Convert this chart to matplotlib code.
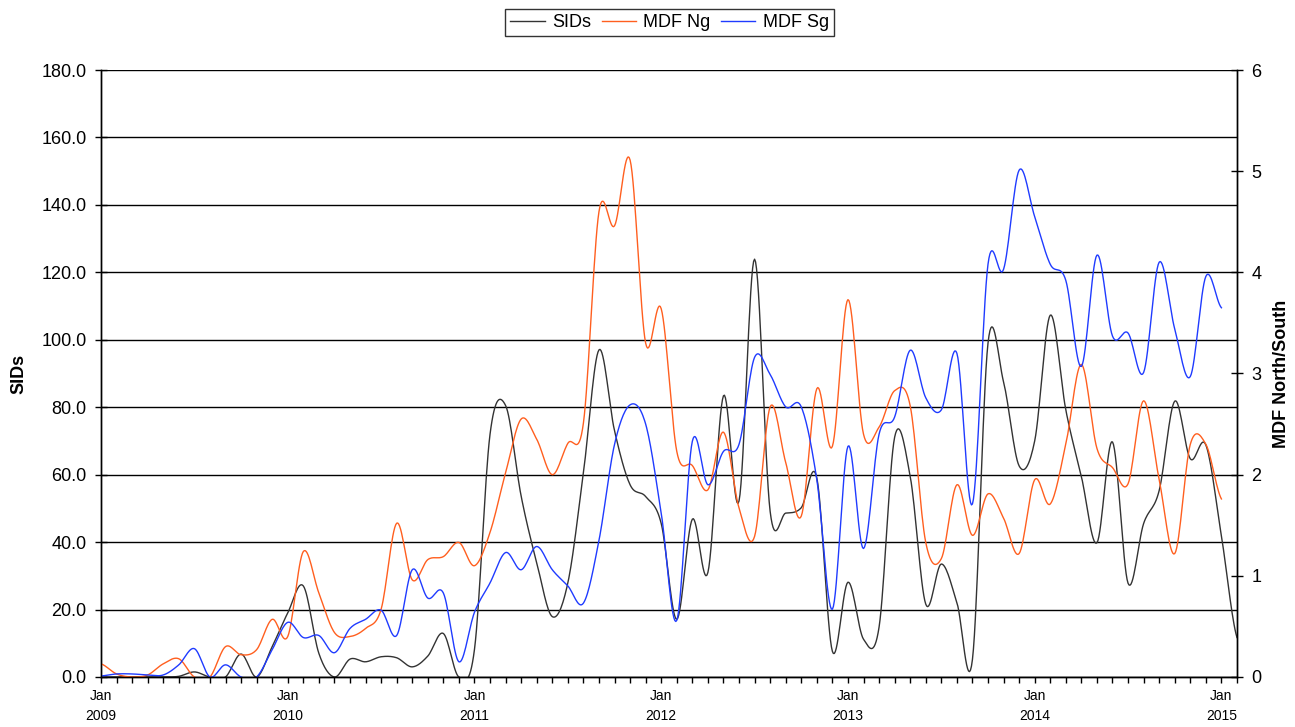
"""
SIDs vs MDF North/South, monthly 2009-2015
"""
import matplotlib
matplotlib.use("Agg")
import matplotlib.pyplot as plt
import numpy as np

# monthly values, Jan 2009 onwards
sids = [0, 0, 0, 0, 0, 0.2, 1.5, 0, 0, 6.8, 0, 9,
        19, 27, 7, 0, 5.3, 4.5, 6, 5.7, 3, 6.2, 12.9, 0,
        8.2, 72, 80.5, 53.6, 33.9, 17.9, 27.9, 60.5, 97, 73, 57, 53.5,
        45.5, 17.1, 46.8, 31, 83.4, 52.2, 123.9, 49.1, 48.6, 50.2, 59, 7.6,
        28.1, 11.2, 14.8, 71.1, 59.5, 21.6, 33.5, 22.1, 5.2, 99, 87.5, 62.6,
        70, 107.3, 79.2, 59.5, 39.8, 69.7, 27.8, 45.5, 55.3, 81.8, 64.7, 68.8,
        41.8, 11.7]

mdf_ng = [0.13, 0.03, 0.0, 0.02, 0.13, 0.18, 0, 0, 0.30, 0.22, 0.27, 0.57,
          0.40, 1.24, 0.83, 0.44, 0.40, 0.48, 0.67, 1.52, 0.96, 1.16, 1.19, 1.33,
          1.10, 1.43, 2.02, 2.55, 2.35, 2.0, 2.31, 2.51, 4.60, 4.46, 5.11, 3.30,
          3.64, 2.23, 2.09, 1.85, 2.42, 1.67, 1.39, 2.67, 2.12, 1.59, 2.85, 2.28,
          3.73, 2.40, 2.47, 2.83, 2.68, 1.33, 1.17, 1.90, 1.40, 1.81, 1.57, 1.22,
          1.95, 1.71, 2.30, 3.09, 2.26, 2.07, 1.91, 2.73, 1.95, 1.22, 2.30, 2.30,
          1.76]

mdf_sg = [0.01, 0.03, 0.03, 0.02, 0.02, 0.12, 0.28, 0, 0.12, 0, 0, 0.27,
          0.54, 0.39, 0.41, 0.24, 0.48, 0.57, 0.66, 0.41, 1.06, 0.78, 0.83, 0.15,
          0.64, 0.93, 1.23, 1.06, 1.29, 1.06, 0.90, 0.73, 1.35, 2.30, 2.69, 2.50,
          1.62, 0.56, 2.33, 1.90, 2.23, 2.30, 3.16, 2.99, 2.67, 2.67, 1.95, 0.67,
          2.28, 1.27, 2.40, 2.57, 3.23, 2.76, 2.64, 3.20, 1.71, 4.08, 4.03, 5.01,
          4.55, 4.08, 3.92, 3.07, 4.17, 3.37, 3.40, 3.01, 4.10, 3.44, 2.97, 3.96,
          3.65]

years = [2009, 2010, 2011, 2012, 2013, 2014, 2015]


def smooth(y, steps=16):
    """Excel-style smoothed line (Catmull-Rom through each point)"""
    y = np.asarray(y, dtype=float)
    x = np.arange(len(y), dtype=float)
    xs, ys = [], []
    t = np.linspace(0, 1, steps, endpoint=False)
    for i in range(len(y) - 1):
        p0 = y[i - 1] if i > 0 else y[i]
        p3 = y[i + 2] if i + 2 < len(y) else y[i + 1]
        p1, p2 = y[i], y[i + 1]
        c1 = p1 + (p2 - p0) / 6
        c2 = p2 - (p3 - p1) / 6
        b = (1 - t) ** 3 * p1 + 3 * (1 - t) ** 2 * t * c1 + 3 * (1 - t) * t ** 2 * c2 + t ** 3 * p2
        xs.extend(x[i] + t)
        ys.extend(b)
    xs.append(x[-1])
    ys.append(y[-1])
    return np.array(xs), np.array(ys)


plt.rcParams['font.family'] = ['Liberation Sans', 'DejaVu Sans']

fig = plt.figure(figsize=(12.95, 7.27), dpi=100)
ax = fig.add_axes([0.078, 0.0688, 0.8772, 0.8349])
ax2 = ax.twinx()

sx, sy = smooth(sids)
l1, = ax.plot(sx, sy, color='#333333', lw=1.0, label='SIDs')
nx, ny = smooth(mdf_ng)
l2, = ax2.plot(nx, ny, color='#FF5F1F', lw=1.0, label='MDF Ng')
gx, gy = smooth(mdf_sg)
l3, = ax2.plot(gx, gy, color='#1F3BFF', lw=1.0, label='MDF Sg')

ax.set_xlim(0, len(sids) - 1)
ax.set_ylim(0, 180)
ax2.set_ylim(0, 6)

ax.set_yticks(np.arange(0, 181, 20))
ax.set_yticklabels([f"{v:.1f}" for v in np.arange(0, 181, 20)], fontsize=13)
ax2.set_yticks(range(7))
ax2.set_yticklabels([str(v) for v in range(7)], fontsize=13)

# Jan labels on major ticks, every month a minor tick
ax.set_xticks([12 * i for i in range(len(years))])
ax.set_xticklabels([f"Jan\n{y}" for y in years], fontsize=10, linespacing=1.5)
ax.set_xticks(np.arange(0, len(sids)), minor=True)
ax.tick_params(axis='x', which='both', direction='out', length=4, width=1, pad=5)
ax.tick_params(axis='y', direction='inout', length=9, width=1, pad=6)
ax2.tick_params(axis='y', direction='inout', length=9, width=1, pad=6)

ax.grid(axis='y', color='black', lw=1.0)
ax.set_axisbelow(True)
for a in (ax, ax2):
    a.spines['top'].set_visible(False)
    for s in ('left', 'right', 'bottom'):
        a.spines[s].set_linewidth(1.0)

ax.set_ylabel('SIDs', fontsize=13, fontweight='bold', labelpad=10)
ax2.set_ylabel('MDF North/South', fontsize=13, fontweight='bold', labelpad=8)

leg = fig.legend(handles=[l1, l2, l3], loc='center', bbox_to_anchor=(0.517, 0.969),
                 ncol=3, fontsize=13, frameon=True, fancybox=False,
                 edgecolor='black', handlelength=1.9, columnspacing=0.6,
                 handletextpad=0.4, borderpad=0.3, borderaxespad=0)
leg.get_frame().set_linewidth(1.0)

fig.savefig('out.png', dpi=100)
